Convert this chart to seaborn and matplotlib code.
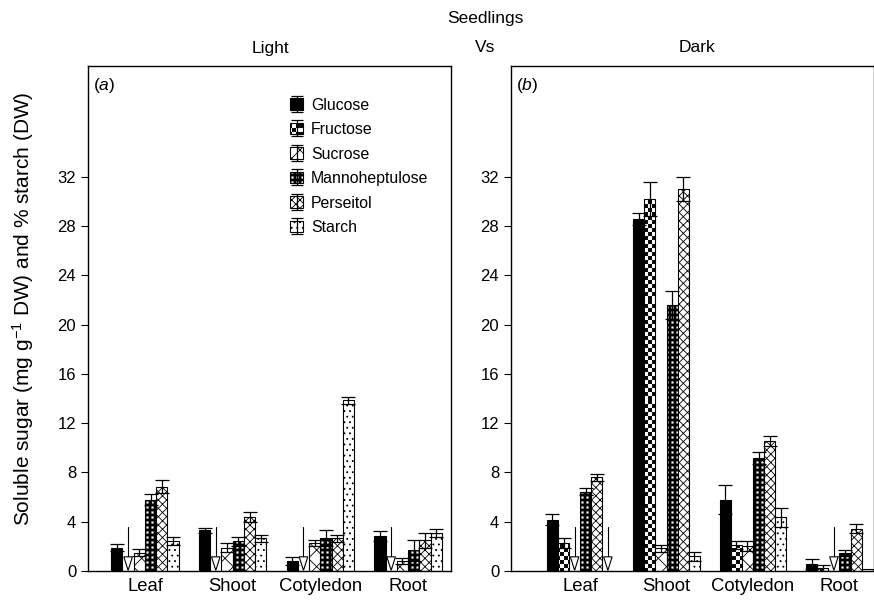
import warnings
warnings.filterwarnings("ignore")
import numpy as np
import pandas as pd
import matplotlib
matplotlib.use("Agg")
import matplotlib.pyplot as plt
import matplotlib.hatch as mhatch
from matplotlib.path import Path
from matplotlib.lines import Line2D
from matplotlib.patches import Patch
from matplotlib.legend_handler import HandlerTuple
import seaborn as sns

# ---------------- data ----------------
organs = ["Leaf", "Shoot", "Cotyledon", "Root"]
sugars = ["Glucose", "Fructose", "Sucrose", "Mannoheptulose", "Perseitol", "Starch"]
nd = np.nan  # not detected

# (a) Light
glucose_light = [1.9, 3.3, 0.8, 2.85]
fructose_light = [nd, nd, nd, nd]
sucrose_light = [1.5, 1.9, 2.25, 0.8]
manno_light = [5.8, 2.4, 2.65, 1.7]
perseitol_light = [6.85, 4.35, 2.65, 2.5]
starch_light = [2.45, 2.65, 13.85, 3.1]

glucose_light_err = [0.3, 0.2, 0.35, 0.4]
fructose_light_err = [0, 0, 0, 0]
sucrose_light_err = [0.25, 0.35, 0.25, 0.25]
manno_light_err = [0.45, 0.35, 0.65, 0.85]
perseitol_light_err = [0.5, 0.4, 0.3, 0.6]
starch_light_err = [0.3, 0.3, 0.3, 0.35]

# (b) Dark
glucose_dark = [4.15, 28.6, 5.8, 0.6]
fructose_dark = [2.25, 30.2, 2.1, 0.25]
sucrose_dark = [nd, 1.85, 2.05, nd]
manno_dark = [6.45, 21.6, 9.15, 1.45]
perseitol_dark = [7.6, 31.0, 10.55, 3.45]
starch_dark = [nd, 1.2, 4.35, 0.15]

glucose_dark_err = [0.45, 0.5, 1.15, 0.4]
fructose_dark_err = [0.4, 1.4, 0.3, 0.25]
sucrose_dark_err = [0, 0.3, 0.4, 0]
manno_dark_err = [0.3, 1.1, 0.5, 0.25]
perseitol_dark_err = [0.3, 1.0, 0.4, 0.4]
starch_dark_err = [0, 0.35, 0.75, 0]

nd_arrow_top = 3.6
yticks = [0, 4, 8, 12, 16, 20, 24, 28, 32]

light_vals = [glucose_light, fructose_light, sucrose_light, manno_light, perseitol_light, starch_light]
light_errs = [glucose_light_err, fructose_light_err, sucrose_light_err, manno_light_err,
              perseitol_light_err, starch_light_err]
dark_vals = [glucose_dark, fructose_dark, sucrose_dark, manno_dark, perseitol_dark, starch_dark]
dark_errs = [glucose_dark_err, fructose_dark_err, sucrose_dark_err, manno_dark_err,
             perseitol_dark_err, starch_dark_err]


# ---------------- custom hatches (checkerboard / dotted grid) ----------------
class CellHatch(mhatch.HatchPatternBase):
    def __init__(self, hatch, density):
        self.kind = None
        self.num_vertices = 0
        if "c" in hatch:
            self.kind = "c"
            self.n = 25
            self.cells = [(i, j) for i in range(self.n) for j in range(self.n) if (i + j) % 2 == 0]
            self.num_vertices = len(self.cells) * 5
        elif "m" in hatch:
            self.kind = "m"
            self.n = 20
            self.cells = [(i, j) for i in range(self.n) for j in range(self.n)]
            self.num_vertices = len(self.cells) * 10

    def set_vertices_and_codes(self, vertices, codes):
        s = 1.0 / self.n
        k = 0
        sq_codes = [Path.MOVETO, Path.LINETO, Path.LINETO, Path.LINETO, Path.CLOSEPOLY]
        for i, j in self.cells:
            x0, y0 = i * s, j * s
            if self.kind == "c":
                d = 0.1 * s
                vertices[k:k + 5] = [(x0 + d, y0 + d), (x0 + s - d, y0 + d), (x0 + s - d, y0 + s - d),
                                     (x0 + d, y0 + s - d), (x0 + d, y0 + d)]
                codes[k:k + 5] = sq_codes
                k += 5
            else:
                vertices[k:k + 5] = [(x0, y0), (x0 + s, y0), (x0 + s, y0 + s), (x0, y0 + s), (x0, y0)]
                codes[k:k + 5] = sq_codes
                k += 5
                h = 0.3 * s
                cx, cy = x0 + s / 2, y0 + s / 2
                vertices[k:k + 5] = [(cx - h, cy - h), (cx - h, cy + h), (cx + h, cy + h),
                                     (cx + h, cy - h), (cx - h, cy - h)]
                codes[k:k + 5] = sq_codes
                k += 5


mhatch._hatch_types.append(CellHatch)

# ---------------- style ----------------
sns.set_style("ticks")
plt.rcParams["font.family"] = ["Liberation Sans", "DejaVu Sans"]
plt.rcParams["mathtext.fontset"] = "custom"
plt.rcParams["mathtext.rm"] = "Liberation Sans"
plt.rcParams["mathtext.it"] = "Liberation Sans:italic"
plt.rcParams["hatch.linewidth"] = 0.6
plt.rcParams["axes.linewidth"] = 1.0
for key in ["text.color", "axes.labelcolor", "xtick.color", "ytick.color", "axes.edgecolor"]:
    plt.rcParams[key] = "black"

colors = {"Glucose": "black", "Fructose": "white", "Sucrose": "white",
          "Mannoheptulose": "white", "Perseitol": "white", "Starch": "white"}
hatches = {"Glucose": None, "Fructose": "c", "Sucrose": "xx",
           "Mannoheptulose": "m", "Perseitol": "xxxx", "Starch": "..."}

fig = plt.figure(figsize=(8.74, 6.0), dpi=100)
W, H = 874.0, 600.0
ax_a = fig.add_axes([88 / W, 1 - 571 / H, 363 / W, 505 / H])
ax_b = fig.add_axes([511 / W, 1 - 571 / H, 363 / W, 505 / H])

bar_width = 0.77


def make_df(vals):
    rows = []
    for s, series in zip(sugars, vals):
        for o, v in zip(organs, series):
            rows.append({"Organ": o, "Sugar": s, "Value": 0.0 if np.isnan(v) else v})
    return pd.DataFrame(rows)


def draw_panel(ax, vals, errs, xlim, tag):
    df = make_df(vals)
    sns.barplot(data=df, x="Organ", y="Value", hue="Sugar", order=organs, hue_order=sugars,
                palette=colors, edgecolor="black", linewidth=0.8, width=bar_width,
                errorbar=None, saturation=1, legend=False, ax=ax, zorder=2)
    bar_conts = list(ax.containers)
    for si, cont in enumerate(bar_conts):
        s = sugars[si]
        for oi, bar in enumerate(cont):
            if hatches[s]:
                bar.set_hatch(hatches[s])
            v = vals[si][oi]
            xc = bar.get_x() + bar.get_width() / 2
            w = bar.get_width()
            if np.isnan(v):
                # not-detected arrow: vertical line + open downward triangle
                tri_h = 1.15
                ax.plot([xc, xc], [tri_h, nd_arrow_top], color="black", lw=0.8, zorder=3)
                ax.fill([xc - 0.38 * w, xc + 0.38 * w, xc], [tri_h, tri_h, 0.05],
                        facecolor="white", edgecolor="black", lw=0.8, zorder=3)
            elif errs[si][oi] > 0:
                ax.errorbar(xc, v, yerr=errs[si][oi], fmt="none", ecolor="black",
                            elinewidth=0.9, capsize=5, capthick=0.9, zorder=4)
    ax.set_xlim(*xlim)
    ax.set_ylim(0, 41)
    ax.set_yticks(yticks)
    ax.set_xlabel("")
    ax.set_ylabel("")
    ax.tick_params(axis="y", labelsize=12, length=5, width=0.8, direction="out")
    ax.tick_params(axis="x", labelsize=13.3, length=0, pad=5)
    for sp in ax.spines.values():
        sp.set_visible(True)
        sp.set_linewidth(1.0)
        sp.set_color("black")
    ax.text(0.014, 0.962, "(" + r"$\it{" + tag + "}$" + ")", transform=ax.transAxes,
            ha="left", va="center", fontsize=12.5)


draw_panel(ax_a, light_vals, light_errs, (-0.65, 3.49), "a")
draw_panel(ax_b, dark_vals, dark_errs, (-0.8, 3.4), "b")

# legend
ibeam = Path([(-0.75, 1), (0.75, 1), (0, 1), (0, -1), (-0.75, -1), (0.75, -1)],
             [Path.MOVETO, Path.LINETO, Path.MOVETO, Path.LINETO, Path.MOVETO, Path.LINETO])
handles = []
for s in sugars:
    p = Patch(facecolor=colors[s], edgecolor="black", hatch=hatches[s], linewidth=0.8)
    l = Line2D([], [], marker=ibeam, markersize=12, color="black", markerfacecolor="none",
               markeredgewidth=0.9, linestyle="none")
    handles.append((p, l))
ax_a.legend(handles, sugars, handler_map={tuple: HandlerTuple(ndivide=1, pad=0)},
            loc="upper left", bbox_to_anchor=(0.54, 0.95), frameon=False,
            fontsize=11.4, handlelength=0.8, handleheight=0.75, handletextpad=0.5,
            labelspacing=0.6, borderaxespad=0)

# titles
fig.text(485 / W, 1 - 18 / H, "Seedlings", ha="center", va="center", fontsize=12.5)
fig.text(270 / W, 1 - 48 / H, "Light", ha="center", va="center", fontsize=12.5)
fig.text(485 / W, 1 - 48 / H, "Vs", ha="center", va="center", fontsize=12.5)
fig.text(697 / W, 1 - 48 / H, "Dark", ha="center", va="center", fontsize=12.5)
fig.text(23 / W, 1 - 309 / H, r"Soluble sugar (mg g$^{-1}$ DW) and % starch (DW)",
         rotation=90, ha="center", va="center", fontsize=15)

fig.savefig("out.png", dpi=100)
